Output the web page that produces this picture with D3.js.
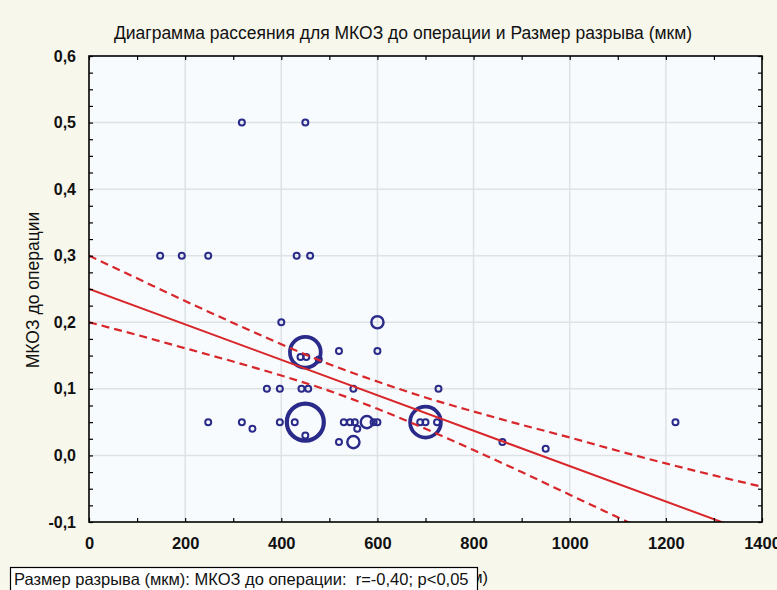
<!DOCTYPE html>
<html><head><meta charset="utf-8">
<script src="https://cdn.jsdelivr.net/npm/d3@7"></script>
<style>body{margin:0;background:#f8f7ec;} svg{display:block}</style>
</head><body><svg id="c" width="777" height="590"></svg>
<script>
const titleText = "Диаграмма рассеяния для МКОЗ до операции и Размер разрыва (мкм)";
const xTitle = "Размер разрыва (мкм)";
const yTitle = "МКОЗ до операции";
const legendText = "Размер разрыва (мкм): МКОЗ до операции:  r=-0,40; p<0,05";
const xTicks = [0, 200, 400, 600, 800, 1000, 1200, 1400];
const yTicks = [-0.1, 0.0, 0.1, 0.2, 0.3, 0.4, 0.5, 0.6];

// scatter points: x (мкм), y (МКОЗ), n (bubble weight)
const ptX = [318, 450, 148, 193, 248, 432, 460, 400, 600, 450, 440, 452, 478, 520, 600,
             370, 397, 442, 456, 550, 727, 248, 318, 340, 397, 428, 450, 450, 520, 550,
             530, 543, 553, 558, 578, 592, 600, 700, 689, 700, 724, 860, 950, 1220];
const ptY = [0.5, 0.5, 0.3, 0.3, 0.3, 0.3, 0.3, 0.2, 0.2, 0.155, 0.148, 0.148, 0.144, 0.157, 0.157,
             0.1, 0.1, 0.1, 0.1, 0.1, 0.1, 0.05, 0.05, 0.04, 0.05, 0.05, 0.05, 0.03, 0.02, 0.02,
             0.05, 0.05, 0.05, 0.04, 0.05, 0.05, 0.05, 0.05, 0.05, 0.05, 0.05, 0.02, 0.01, 0.05];
const ptN = [1, 1, 1, 1, 1, 1, 1, 1, 2, 5, 1, 1, 1, 1, 1,
             1, 1, 1, 1, 1, 1, 1, 1, 1, 1, 1, 6, 1, 1, 2,
             1, 1, 1, 1, 2, 1, 1, 5, 1, 1, 1, 1, 1, 1];

// regression line and 95% confidence band
const fitX = [0, 1400];
const fitY = [0.25, -0.1224];
const bandX = [0, 100, 200, 300, 400, 500, 600, 700, 800, 900, 1000, 1100, 1200, 1300, 1400];
const bandUpper = [0.300, 0.266, 0.232, 0.199, 0.167, 0.137, 0.111, 0.087, 0.066, 0.046, 0.027, 0.007, -0.012, -0.030, -0.047];
const bandLower = [0.200, 0.181, 0.161, 0.141, 0.120, 0.097, 0.070, 0.040, 0.008, -0.025, -0.059, -0.093, -0.127, -0.161, -0.196];

const L = 89, R = 762, T = 56, B = 522;
const svg = d3.select("#c");
const x = d3.scaleLinear().domain([0, 1400]).range([L, R]);
const y = d3.scaleLinear().domain([-0.1, 0.6]).range([B, T]);
const font = "'Liberation Sans', Arial, sans-serif";
const fmt = v => v.toFixed(1).replace(".", ",");

svg.append("rect").attr("width", 777).attr("height", 590).attr("fill", "#f8f7ec");
svg.append("rect").attr("x", L).attr("y", T).attr("width", R - L).attr("height", B - T).attr("fill", "#f7fbfd");

// grid
svg.append("g").selectAll("line").data(xTicks.slice(1, -1)).join("line")
  .attr("x1", d => x(d)).attr("x2", d => x(d)).attr("y1", T).attr("y2", B)
  .attr("stroke", "#dde2e5").attr("stroke-width", 1.5);
svg.append("g").selectAll("line").data(yTicks.slice(1, -1)).join("line")
  .attr("y1", d => y(d)).attr("y2", d => y(d)).attr("x1", L).attr("x2", R)
  .attr("stroke", "#dde2e5").attr("stroke-width", 1.5);

// clip
svg.append("clipPath").attr("id", "clip").append("rect")
  .attr("x", L).attr("y", T).attr("width", R - L).attr("height", B - T);
const plot = svg.append("g").attr("clip-path", "url(#clip)");

// points
const rScale = d3.scaleLinear().domain([1, 6]).range([3, 18.5]);
const swScale = d3.scaleLinear().domain([1, 6]).range([2, 4.2]);
const pts = ptX.map((d, i) => ({x: d, y: ptY[i], n: ptN[i]}));
plot.append("g").selectAll("circle").data(pts).join("circle")
  .attr("cx", d => x(d.x)).attr("cy", d => y(d.y)).attr("r", d => rScale(d.n))
  .attr("fill", "none").attr("stroke", "#2a2a8a").attr("stroke-width", d => swScale(d.n));

// lines
const line = d3.line().x(d => x(d[0])).y(d => y(d[1])).curve(d3.curveMonotoneX);
plot.append("path").datum(fitX.map((d, i) => [d, fitY[i]])).attr("d", line)
  .attr("fill", "none").attr("stroke", "#d8262a").attr("stroke-width", 2);
[bandUpper, bandLower].forEach(arr => {
  plot.append("path").datum(bandX.map((d, i) => [d, arr[i]])).attr("d", line)
    .attr("fill", "none").attr("stroke", "#d8262a").attr("stroke-width", 2.2)
    .attr("stroke-dasharray", "8,5");
});

// axes
const minorY = d3.range(0, 29).map(i => -0.1 + i * 0.025);
const minorX = d3.range(0, 15).map(i => i * 100);
function styleAxis(g) { g.select(".domain").remove(); g.selectAll("line").attr("stroke", "#000").attr("stroke-width", 1.2); }
svg.append("g").attr("transform", `translate(${L},0)`)
  .call(d3.axisLeft(y).tickValues(minorY).tickSize(-4).tickFormat("")).call(styleAxis);
svg.append("g").attr("transform", `translate(${R},0)`)
  .call(d3.axisRight(y).tickValues(minorY).tickSize(-4).tickFormat("")).call(styleAxis);
svg.append("g").attr("transform", `translate(0,${B})`)
  .call(d3.axisBottom(x).tickValues(minorX).tickSize(-4).tickFormat("")).call(styleAxis);
svg.append("g").attr("transform", `translate(0,${T})`)
  .call(d3.axisTop(x).tickValues(minorX).tickSize(-4).tickFormat("")).call(styleAxis);

const yl = svg.append("g").attr("transform", `translate(${L},0)`)
  .call(d3.axisLeft(y).tickValues(yTicks).tickSize(0).tickPadding(13).tickFormat(fmt));
yl.select(".domain").remove();
yl.selectAll("text").attr("font-family", font).attr("font-size", 16).attr("font-weight", "bold").attr("fill", "#111");
const xl = svg.append("g").attr("transform", `translate(0,${B})`)
  .call(d3.axisBottom(x).tickValues(xTicks).tickSize(0).tickPadding(15).tickFormat(d3.format("d")));
xl.select(".domain").remove();
xl.selectAll("text").attr("font-family", font).attr("font-size", 16.5).attr("font-weight", "bold").attr("fill", "#111");

svg.append("rect").attr("x", L).attr("y", T).attr("width", R - L).attr("height", B - T)
  .attr("fill", "none").attr("stroke", "#000").attr("stroke-width", 1.6);

// titles
svg.append("text").attr("x", 403).attr("y", 39).attr("text-anchor", "middle")
  .attr("font-family", font).attr("font-size", 17.5).attr("fill", "#111").text(titleText);
svg.append("text").attr("transform", "translate(39,290) rotate(-90)").attr("text-anchor", "middle")
  .attr("font-family", font).attr("font-size", 17.5).attr("fill", "#111").text(yTitle);
svg.append("text").attr("x", 488).attr("y", 583).attr("text-anchor", "end")
  .attr("font-family", font).attr("font-size", 16.5).attr("fill", "#111").text(xTitle);

// legend box
svg.append("rect").attr("x", 10.5).attr("y", 567.5).attr("width", 467).attr("height", 30)
  .attr("fill", "#fff").attr("stroke", "#000").attr("stroke-width", 1.2);
svg.append("text").attr("x", 14).attr("y", 585).attr("font-family", font).attr("font-size", 16.5)
  .attr("fill", "#111").attr("xml:space", "preserve").style("white-space", "pre").text(legendText);
</script></body></html>
